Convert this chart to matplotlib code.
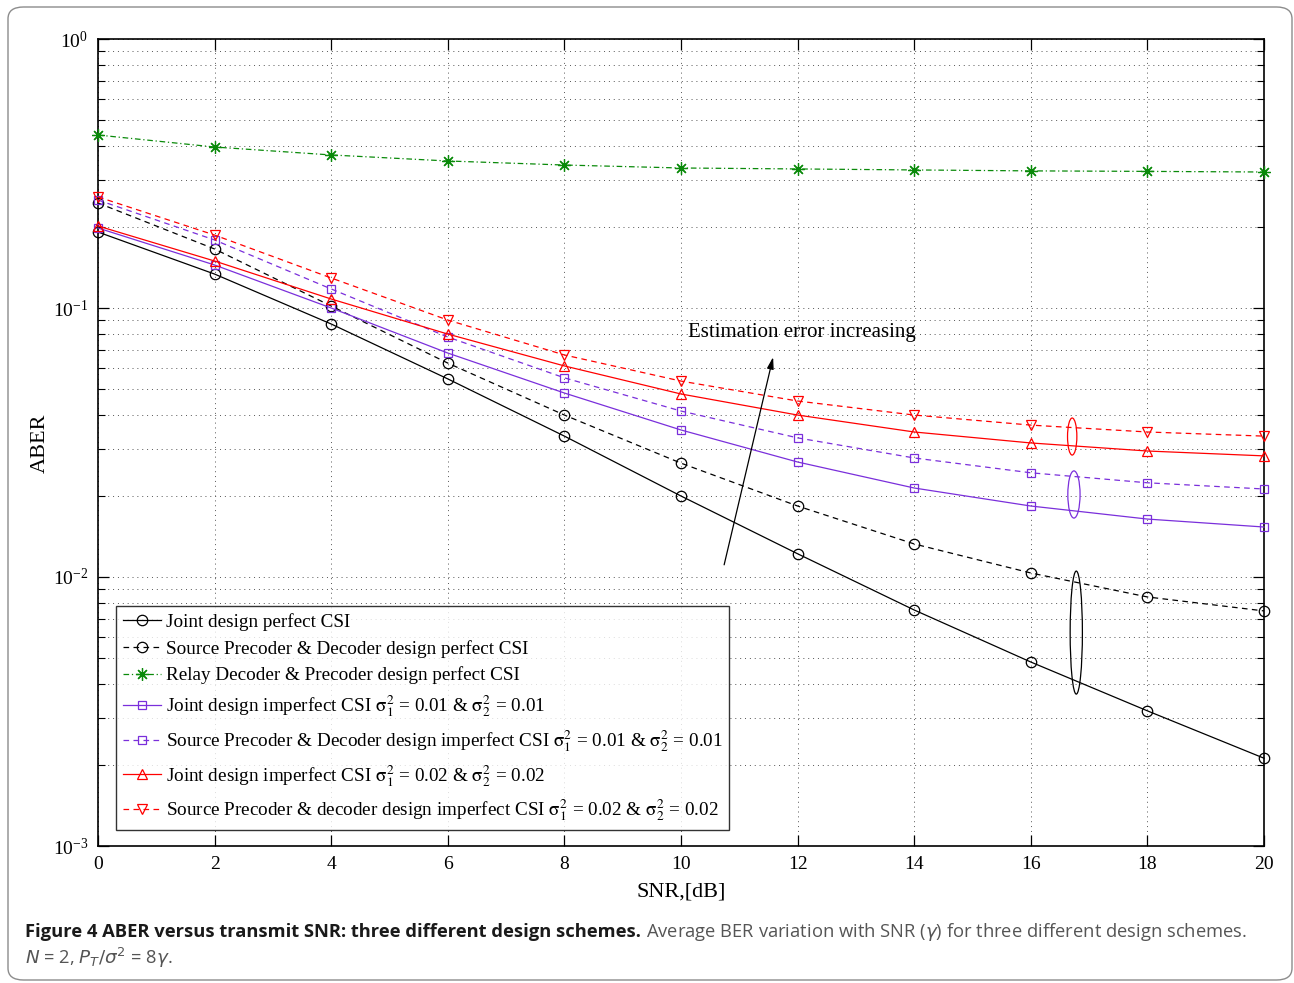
import matplotlib
matplotlib.use("Agg")
import matplotlib.pyplot as plt
import numpy as np
from matplotlib import font_manager
from matplotlib.patches import Ellipse, FancyBboxPatch
from matplotlib.ticker import LogLocator, NullFormatter, FixedLocator

# ---- data -------------------------------------------------------------
snr_db = [0, 2, 4, 6, 8, 10, 12, 14, 16, 18, 20]

joint_perfect = [0.1916, 0.1337, 0.0872, 0.0545, 0.0334, 0.0200,
                 0.0122, 0.00754, 0.00483, 0.00318, 0.00212]
source_perfect = [0.2457, 0.1657, 0.1017, 0.0624, 0.0400, 0.0265,
                  0.01836, 0.01327, 0.01035, 0.00843, 0.00748]
relay_perfect = [0.4396, 0.3967, 0.3706, 0.3520, 0.3400, 0.3315,
                 0.3288, 0.3260, 0.3234, 0.3220, 0.3203]
joint_imp_001 = [0.1983, 0.1445, 0.1000, 0.0680, 0.0483, 0.0352,
                 0.02676, 0.02142, 0.01836, 0.01642, 0.01534]
source_imp_001 = [0.2520, 0.1790, 0.1177, 0.0780, 0.0550, 0.0414,
                  0.0329, 0.0277, 0.0244, 0.0224, 0.02124]
joint_imp_002 = [0.2018, 0.1495, 0.1080, 0.0800, 0.0609, 0.0479,
                 0.0400, 0.0346, 0.0315, 0.0294, 0.0282]
source_imp_002 = [0.2588, 0.1867, 0.1293, 0.0902, 0.0669, 0.0535,
                  0.0451, 0.0400, 0.0367, 0.0346, 0.0334]

sig1 = r"$\mathrm{\sigma}_1^2$"
sig2 = r"$\mathrm{\sigma}_2^2$"
labels = [
    "Joint design perfect CSI",
    "Source Precoder & Decoder design perfect CSI",
    "Relay Decoder & Precoder design perfect CSI",
    f"Joint design imperfect CSI {sig1} = 0.01 & {sig2} = 0.01",
    f"Source Precoder & Decoder design imperfect CSI {sig1} = 0.01 & {sig2} = 0.01",
    f"Joint design imperfect CSI {sig1} = 0.02 & {sig2} = 0.02",
    f"Source Precoder & decoder design imperfect CSI {sig1} = 0.02 & {sig2} = 0.02",
]

# grouping ellipses: (x, lower ABER, upper ABER, width in dB, colour)
groups = [
    (16.71, 0.0284, 0.0390, 0.16, "#ff0000"),
    (16.74, 0.01656, 0.0248, 0.21, "#7a2fdb"),
    (16.78, 0.00367, 0.01052, 0.21, "black"),
]

# ---- style ------------------------------------------------------------
plt.rcParams["font.family"] = ["Liberation Serif", "DejaVu Serif"]
plt.rcParams["mathtext.fontset"] = "stix"

W, H = 1294, 983
fig = plt.figure(figsize=(W / 100, H / 100), dpi=100)

# outer rounded frame
frame = FancyBboxPatch((8 / W, 1 - 980 / H), (1292 - 8) / W, (980 - 7) / H,
                       boxstyle="round,pad=0,rounding_size=0.012",
                       transform=fig.transFigure, fill=False,
                       edgecolor="#8c8c8c", linewidth=1.0)
fig.patches.append(frame)

ax = fig.add_axes([98 / W, 1 - 846 / H, (1264 - 98) / W, (846 - 39) / H])
ax.set_yscale("log")
ax.set_xlim(0, 20)
ax.set_ylim(1e-3, 1)

black = "black"
purple = "#7a2fdb"
red = "#ff0000"
green = "#0a8a0a"

dash = (0, (4.5, 3.5))
dashdot = (0, (4.5, 2.2, 1.0, 2.2))
lw = 0.9
ms = 7.5

series = [
    (joint_perfect, black, "-", "o", ms),
    (source_perfect, black, dash, "o", ms),
    (relay_perfect, green, dashdot, (8, 2, 0), 9),
    (joint_imp_001, purple, "-", "s", 6),
    (source_imp_001, purple, dash, "s", 6),
    (joint_imp_002, red, "-", "^", ms),
    (source_imp_002, red, dash, "v", ms),
]

for (vals, col, ls, mk, msz), lab in zip(series, labels):
    ax.plot(snr_db, vals, color=col, linestyle=ls, linewidth=lw,
            marker=mk, markersize=msz, markerfacecolor="none",
            markeredgecolor=col, markeredgewidth=0.9, label=lab,
            clip_on=False, zorder=3)

# ticks and grid
ax.xaxis.set_major_locator(FixedLocator(snr_db))
ax.yaxis.set_major_locator(LogLocator(base=10, numticks=10))
ax.yaxis.set_minor_locator(LogLocator(base=10, subs=np.arange(2, 10), numticks=100))
ax.yaxis.set_minor_formatter(NullFormatter())
ax.tick_params(which="both", direction="in", top=True, right=True,
               labelsize=14, pad=7)
ax.tick_params(which="major", length=8, width=0.9)
ax.tick_params(which="minor", length=5, width=0.8)
for s in ax.spines.values():
    s.set_linewidth(1.2)
ax.grid(True, which="major", axis="both", linestyle=(0, (1, 4)),
        color="#555555", linewidth=0.7)
ax.grid(True, which="minor", axis="y", linestyle=(0, (1, 4)),
        color="#555555", linewidth=0.7)
ax.set_axisbelow(True)

ax.set_xlabel("SNR,[dB]", fontsize=16)
ax.xaxis.set_label_coords(0.5, -0.057)
ax.xaxis.label.set_va("center")
ax.set_ylabel("ABER", fontsize=16)
ax.yaxis.set_label_coords(-0.0497, 0.4994)
ax.yaxis.label.set_va("center")

# grouping ellipses, drawn in axes-fraction space so they stay elliptical
x0, x1 = ax.get_xlim()
for gx, lo, hi, wd, col in groups:
    fy_lo = (np.log10(lo) + 3) / 3
    fy_hi = (np.log10(hi) + 3) / 3
    fx = (gx - x0) / (x1 - x0)
    e = Ellipse((fx, (fy_lo + fy_hi) / 2), wd / (x1 - x0), fy_hi - fy_lo,
                transform=ax.transAxes, fill=False, edgecolor=col,
                linewidth=0.9, zorder=4)
    ax.add_patch(e)

# trend arrow and its note
ax.annotate("", xy=(11.58, 0.0657), xytext=(10.74, 0.0111),
            arrowprops=dict(arrowstyle="-|>,head_length=0.7,head_width=0.2",
                            color="black", lw=0.9, shrinkA=0, shrinkB=0))
ax.text(10.12, 0.0814, "Estimation error increasing", fontsize=15,
        ha="left", va="center")

leg = ax.legend(loc="lower left", bbox_to_anchor=(0.0154, 0.0198),
                fontsize=13.8, frameon=True, fancybox=False,
                edgecolor="black", handlelength=2.0, handletextpad=0.25,
                borderpad=0.35, labelspacing=0.47, borderaxespad=0)
leg.get_frame().set_linewidth(1.0)

# caption
available = {f.name for f in font_manager.fontManager.ttflist}
cap_main = "Liberation Sans Narrow" if "Liberation Sans Narrow" in available else "Open Sans"
cap_font = [cap_main, "DejaVu Sans"]
cap_size = 14.5 if cap_main == "Liberation Sans Narrow" else 13.2

fig.canvas.draw()
renderer = fig.canvas.get_renderer()
t1 = fig.text(25 / W, 1 - 932 / H,
              "Figure 4 ABER versus transmit SNR: three different design schemes.",
              fontsize=cap_size, fontweight="bold", family=cap_font,
              ha="left", va="center", color="#1a1a1a")
bb = t1.get_window_extent(renderer)
fig.text((bb.x1 + 5) / W, 1 - 932 / H,
         r"Average BER variation with SNR ($\gamma$) for three different design schemes.",
         fontsize=cap_size, family=cap_font, ha="left", va="center",
         color="#555555", math_fontfamily="dejavusans")
fig.text(25 / W, 1 - 958 / H, r"$N$ = 2, $P_T/\sigma^2$ = 8$\gamma$.",
         fontsize=cap_size, family=cap_font, ha="left", va="center",
         color="#555555", math_fontfamily="dejavusans")

fig.savefig("out.png", dpi=100)
